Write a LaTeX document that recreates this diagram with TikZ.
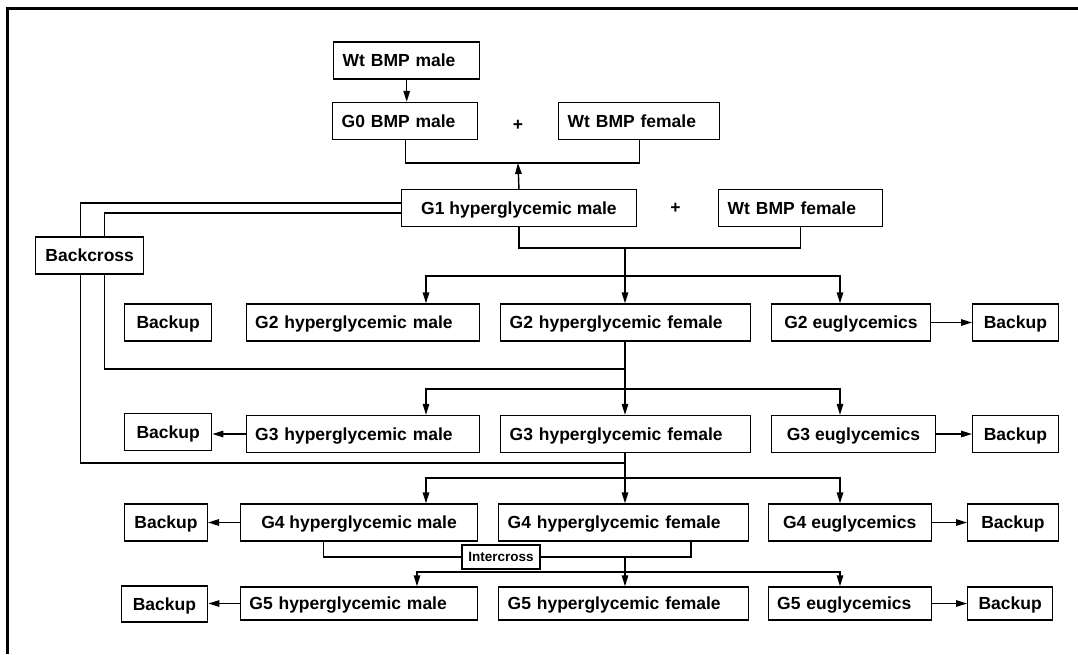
\documentclass[tikz,border=0pt]{standalone}
\usepackage{fontspec}
\setmainfont{Liberation Sans}
\usetikzlibrary{arrows.meta}

\tikzset{
 box/.style={draw, line width=1.4pt, anchor=west, minimum height=37pt, inner ysep=0pt, text height=13pt, text depth=0.5pt, font=\bfseries\fontsize{17.5}{21}\selectfont},
 lbox/.style={box, inner xsep=9pt, align=left, text width=#1},
 cbox/.style={box, inner xsep=2pt, minimum width=#1},
 arr/.style={-{Triangle[length=11pt,width=6.5pt]}},
}

\begin{document}
\begin{tikzpicture}[x=1pt,y=-1pt,line width=1.4pt]
\useasboundingbox (0,0) rectangle (1078,654);
\draw[line width=2.5pt] (7.5,654) -- (7.5,8.3) -- (1078,8.3);

\node[lbox=128pt] (wtm) at (333,60.5) {Wt BMP male};
\node[lbox=127pt] (g0) at (332,121) {G0 BMP male};
\node[lbox=143pt] (wtf) at (558,121) {Wt BMP female};
\node[font=\bfseries\fontsize{17.5}{21}\selectfont] (plus1) at (518,125) {+};
\node[cbox=235.5pt] (g1) at (400.5,208) {G1 hyperglycemic male};
\node[font=\bfseries\fontsize{17.5}{21}\selectfont] (plus2) at (675.5,208) {+};
\node[lbox=146pt] (wtf2) at (718,208) {Wt BMP female};
\node[cbox=108pt] (bc) at (35,255.5) {Backcross};

\node[cbox=87pt] (bul2) at (124,322.5) {Backup};
\node[lbox=215.5pt] (hm2) at (245.5,322.5) {G2 hyperglycemic male};
\node[lbox=232pt] (hf2) at (500,322.5) {G2 hyperglycemic female};
\node[cbox=159.4pt] (eu2) at (770.6,322.5) {G2 euglycemics};
\node[cbox=85.5pt] (bur2) at (972,322.5) {Backup};

\node[cbox=87pt] (bul3) at (124,432) {Backup};
\node[lbox=215.5pt] (hm3) at (245.5,434) {G3 hyperglycemic male};
\node[lbox=232pt] (hf3) at (500,434) {G3 hyperglycemic female};
\node[cbox=163.6pt] (eu3) at (771,434) {G3 euglycemics};
\node[cbox=85.5pt] (bur3) at (972,434) {Backup};

\node[cbox=82.6pt] (bul4) at (124,522.5) {Backup};
\node[cbox=237.3pt] (hm4) at (239.7,522.5) {G4 hyperglycemic male};
\node[lbox=232pt] (hf4) at (498,522.5) {G4 hyperglycemic female};
\node[cbox=163pt] (eu4) at (767.5,522.5) {G4 euglycemics};
\node[cbox=90.5pt] (bur4) at (967,522.5) {Backup};

\node[box, anchor=center, minimum height=24pt, minimum width=78pt, inner xsep=1pt, text height=10pt, text depth=0.5pt, font=\bfseries\fontsize{13.5}{16}\selectfont] (inter) at (501,557) {Intercross};

\node[cbox=86.5pt, minimum height=36pt] (bul5) at (120.5,604) {Backup};
\node[lbox=219.3pt, minimum height=33pt] (hm5) at (239.7,603.5) {G5 hyperglycemic male};
\node[lbox=232pt, minimum height=33pt] (hf5) at (498,603.5) {G5 hyperglycemic female};
\node[lbox=145pt, minimum height=33pt] (eu5) at (767.5,603.5) {G5 euglycemics};
\node[cbox=85pt, minimum height=33pt] (bur5) at (967,603.5) {Backup};

\coordinate (j0) at (518,163);
\coordinate (j1) at (625,248);
\coordinate (s2) at (625,276);
\coordinate (j3) at (625,369);
\coordinate (s3) at (625,389);
\coordinate (j4) at (625,463);
\coordinate (s4) at (625,478);
\coordinate (j5) at (625,557);
\coordinate (s5) at (625,572);

\draw[arr] (wtm.south) -- (wtm.south |- g0.north);
\draw (g0.south) |- (j0) -| (wtf.south);
\draw[arr] (g1.north) -- (j0);
\draw (g1.south) |- (j1) -| (wtf2.south);
\draw[arr] (j1) -- (j1 |- hf2.north);
\draw[arr] (j1 |- hf2.south) -- (j1 |- hf3.north);
\draw[arr] (j1 |- hf3.south) -- (j1 |- hf4.north);
\draw[arr] (j5) -- (j5 |- hf5.north);
\foreach \n in {2,3,4} {
 \draw[arr] (s\n) -| (426,0 |- hm\n.north);
 \draw[arr] (s\n) -| (840,0 |- eu\n.north);
}
\draw[arr] (s5) -| (417,0 |- hm5.north);
\draw[arr] (s5) -| (840,0 |- eu5.north);

\draw ([yshift=5pt]g1.west) -| ([xshift=-9.5pt]bc.north);
\draw ([yshift=-5pt]g1.west) -| ([xshift=14.5pt]bc.north);
\draw ([xshift=-9.5pt]bc.south) |- (j4);
\draw ([xshift=14.5pt]bc.south) |- (j3);

\draw (323.7,0 |- hm4.south) |- (inter.west);
\draw (inter.east) -| (691,0 |- hf4.south);

\foreach \n in {2,...,5} {
 \draw[arr] (eu\n.east) -- (eu\n.east -| bur\n.west);
}
\foreach \n in {3,4,5} {
 \draw[arr] (hm\n.west) -- (hm\n.west -| bul\n.east);
}
\end{tikzpicture}
\end{document}
